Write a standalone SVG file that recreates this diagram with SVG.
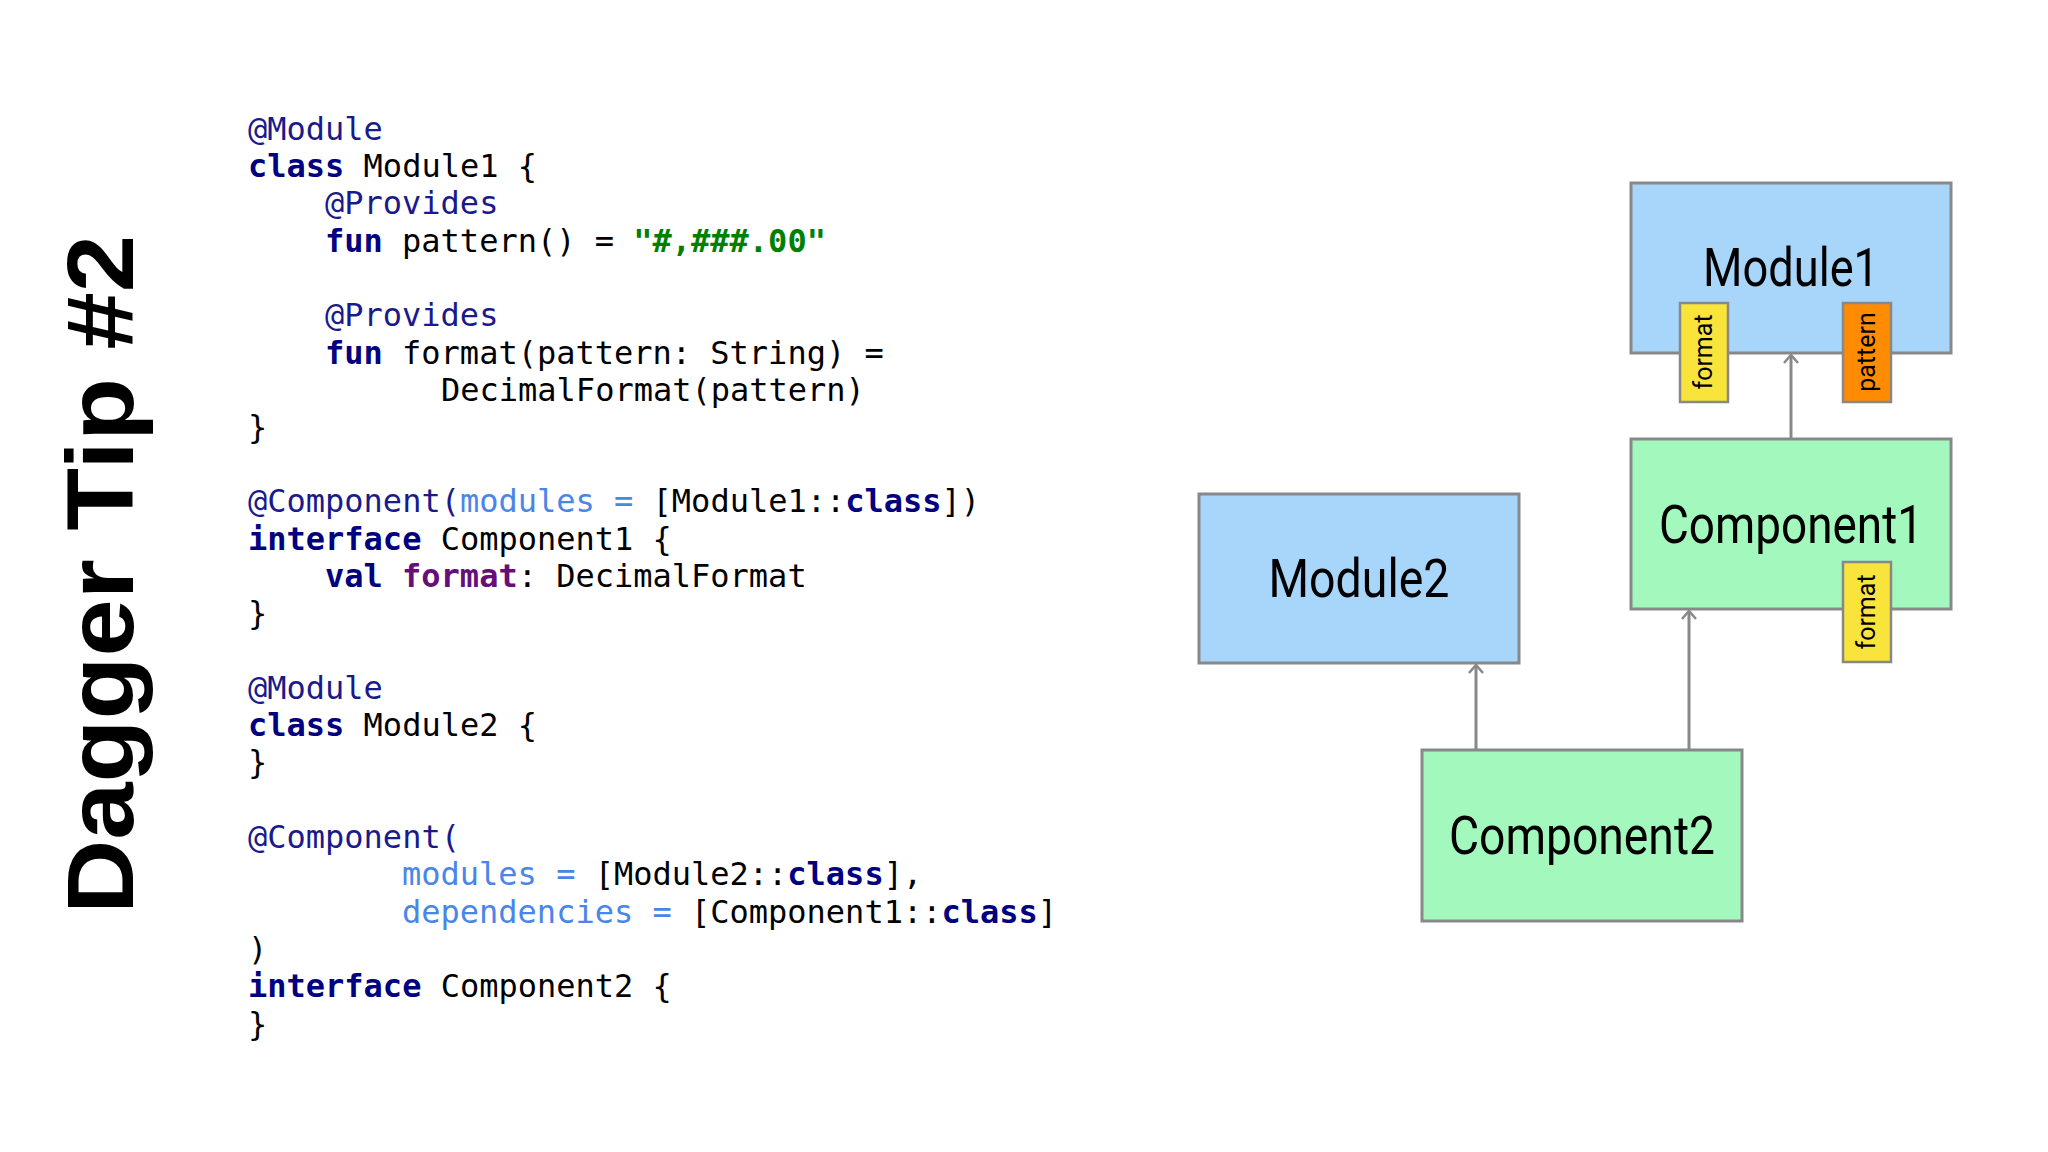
<svg xmlns="http://www.w3.org/2000/svg" width="2048" height="1152" viewBox="0 0 2048 1152">
<defs>
<style>
.code{font-family:"DejaVu Sans Mono",monospace;font-size:32px;fill:#000;white-space:pre}
.an{fill:#1a1a8c}.kw{fill:#000080;font-weight:bold}.str{fill:#008000;font-weight:bold}.pr{fill:#660e7a;font-weight:bold}.na{fill:#4a86e8}
.box{stroke:#888;stroke-width:3}
.mod{fill:#a8d6fb}.comp{fill:#a3f9bd}
.lbl{font-family:Roboto,"Liberation Sans",sans-serif;font-size:54px;fill:#000;text-anchor:middle}
.tag{stroke:#888;stroke-width:2.5}
.tl{font-family:Roboto,"Liberation Sans",sans-serif;font-size:25px;fill:#000;text-anchor:middle}
.conn{stroke:#888;stroke-width:3;fill:none}
</style>
<marker id="ah" markerWidth="16" markerHeight="16" refX="9" refY="8" orient="auto" markerUnits="userSpaceOnUse" viewBox="0 0 16 16"><path d="M1,1 L9,8 L1,15" fill="none" stroke="#888" stroke-width="2.5"/></marker>
</defs>
<rect width="2048" height="1152" fill="#fff"/>
<text transform="translate(133,914) rotate(-90)" font-family="Liberation Sans,Arial,sans-serif" font-weight="bold" font-size="94" textLength="679" lengthAdjust="spacingAndGlyphs" fill="#000">Dagger Tip #2</text>
<g id="code" class="code">
<text x="248" y="140"><tspan class="an">@Module</tspan></text>
<text x="248" y="177"><tspan class="kw">class</tspan> Module1 {</text>
<text x="325" y="214"><tspan class="an">@Provides</tspan></text>
<text x="325" y="252"><tspan class="kw">fun</tspan> pattern() = <tspan class="str">"#,###.00"</tspan></text>
<text x="325" y="326"><tspan class="an">@Provides</tspan></text>
<text x="325" y="364"><tspan class="kw">fun</tspan> format(pattern: String) =</text>
<text x="441" y="401">DecimalFormat(pattern)</text>
<text x="248" y="438">}</text>
<text x="248" y="512"><tspan class="an">@Component(</tspan><tspan class="na">modules = </tspan>[Module1::<tspan class="kw">class</tspan>])</text>
<text x="248" y="550"><tspan class="kw">interface</tspan> Component1 {</text>
<text x="325" y="587"><tspan class="kw">val</tspan> <tspan class="pr">format</tspan>: DecimalFormat</text>
<text x="248" y="624">}</text>
<text x="248" y="699"><tspan class="an">@Module</tspan></text>
<text x="248" y="736"><tspan class="kw">class</tspan> Module2 {</text>
<text x="248" y="773">}</text>
<text x="248" y="848"><tspan class="an">@Component(</tspan></text>
<text x="402" y="885"><tspan class="na">modules = </tspan>[Module2::<tspan class="kw">class</tspan>],</text>
<text x="402" y="923"><tspan class="na">dependencies = </tspan>[Component1::<tspan class="kw">class</tspan>]</text>
<text x="248" y="960">)</text>
<text x="248" y="997"><tspan class="kw">interface</tspan> Component2 {</text>
<text x="248" y="1035">}</text>
</g>
<g id="connectors">
<line class="conn" x1="1791" y1="439" x2="1791" y2="355" marker-end="url(#ah)"/>
<line class="conn" x1="1476" y1="750" x2="1476" y2="665" marker-end="url(#ah)"/>
<line class="conn" x1="1689" y1="750" x2="1689" y2="611" marker-end="url(#ah)"/>
</g>
<g id="module1">
<rect class="box mod" x="1631" y="183" width="320" height="170"/>
<text class="lbl" x="1791" y="286" textLength="176" lengthAdjust="spacingAndGlyphs">Module1</text>
</g>
<g id="component1">
<rect class="box comp" x="1631" y="439" width="320" height="170"/>
<text class="lbl" x="1791" y="543" textLength="264" lengthAdjust="spacingAndGlyphs">Component1</text>
</g>
<g id="module2">
<rect class="box mod" x="1199" y="494" width="320" height="169"/>
<text class="lbl" x="1359" y="597" textLength="181" lengthAdjust="spacingAndGlyphs">Module2</text>
</g>
<g id="component2">
<rect class="box comp" x="1422" y="750" width="320" height="171"/>
<text class="lbl" x="1582" y="854" textLength="266" lengthAdjust="spacingAndGlyphs">Component2</text>
</g>
<g id="tag-m1-format">
<rect class="tag" x="1680" y="303" width="48" height="99" fill="#f9e43b"/>
<text class="tl" transform="translate(1712,352) rotate(-90)">format</text>
</g>
<g id="tag-m1-pattern">
<rect class="tag" x="1843" y="303" width="48" height="99" fill="#ff8c00"/>
<text class="tl" transform="translate(1875,352) rotate(-90)">pattern</text>
</g>
<g id="tag-c1-format">
<rect class="tag" x="1843" y="562" width="48" height="100" fill="#f9e43b"/>
<text class="tl" transform="translate(1875,612) rotate(-90)">format</text>
</g>
</svg>
